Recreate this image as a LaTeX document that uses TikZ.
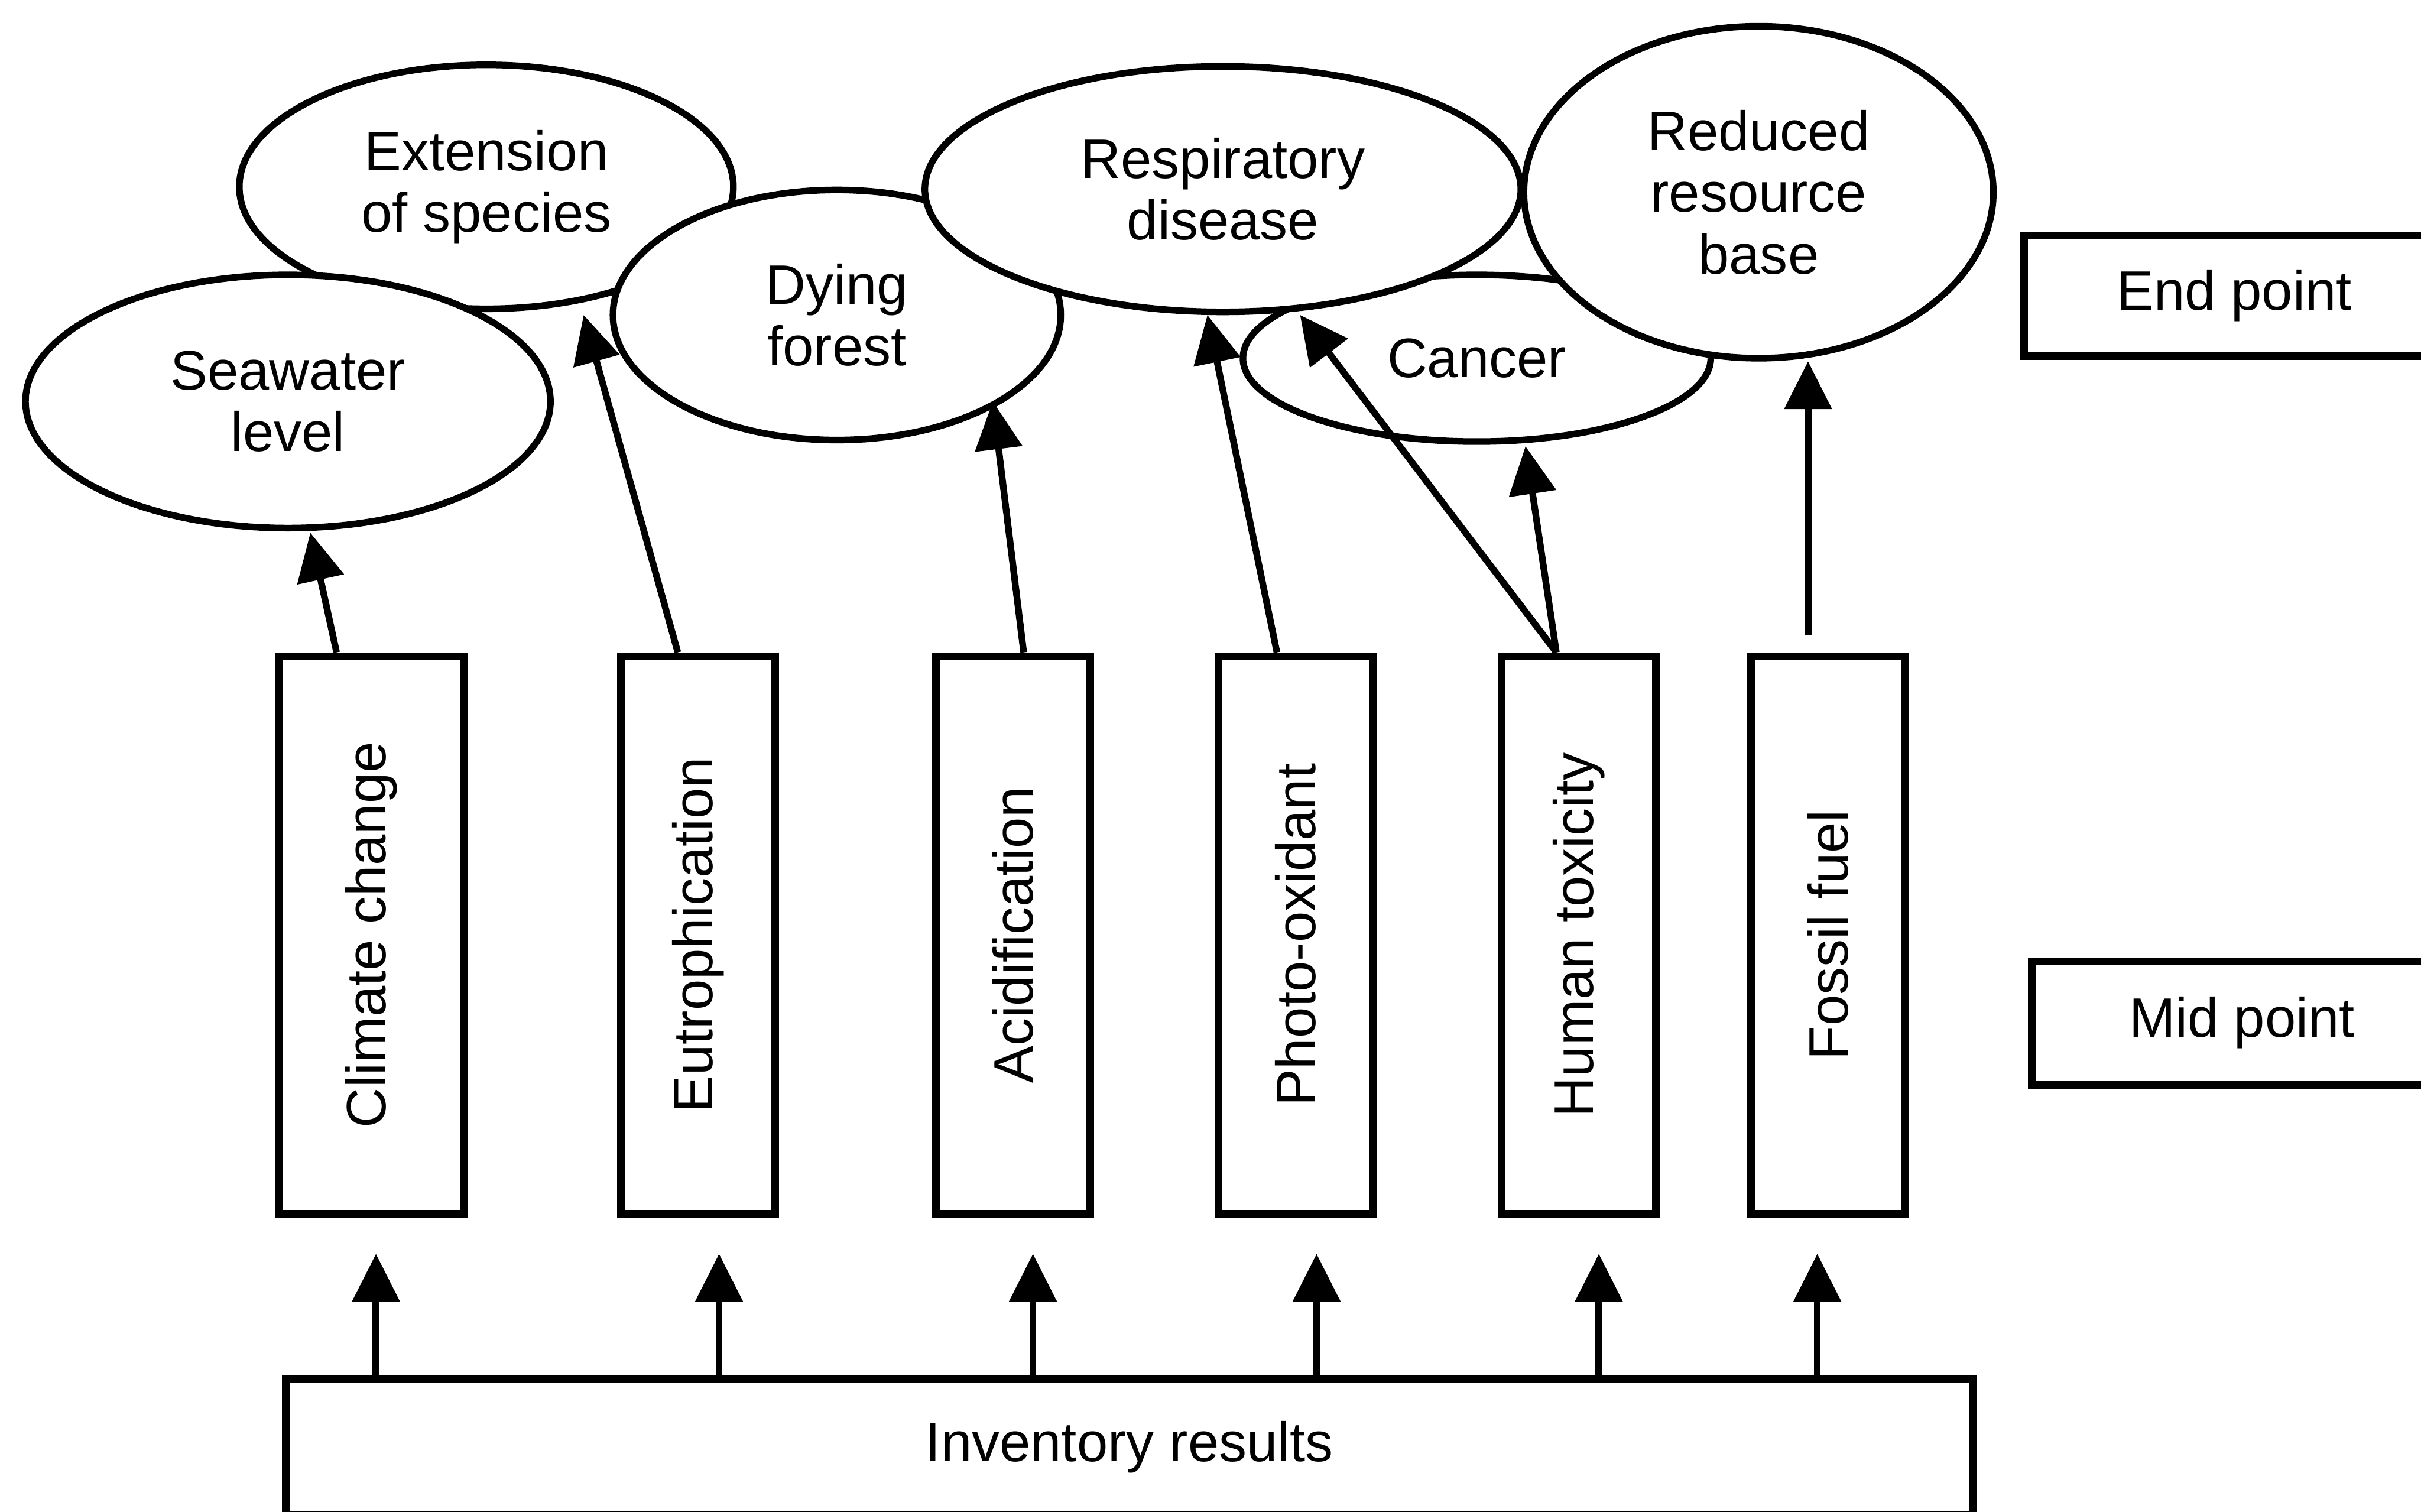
\documentclass[tikz,border=0pt]{standalone}
\usepackage{fontspec}
\usepackage{graphicx}
\setmainfont{Liberation Sans}
\usetikzlibrary{shapes.geometric,arrows.meta}
\begin{document}
\begin{tikzpicture}[x=1pt,y=-1pt,
  lbl/.style={font=\fontsize{36}{40}\selectfont, align=center, inner sep=0pt},
  bubble/.style={lbl, ellipse, draw, line width=4.3pt, fill=white},
  bar/.style={lbl, rectangle, draw, line width=5pt, fill=white, minimum height=361pt},
  tag/.style={lbl, rectangle, draw, line width=5pt, fill=white},
  arr/.style={line width=4.3pt, -{Triangle[length=31pt,width=30pt]}}]
\useasboundingbox (0,0) rectangle (1568,979);
\clip (0,0) rectangle (1568,979);

% end-point effects (drawn back to front)
\node[bubble, minimum width=320pt, minimum height=158pt] (ext) at (315,121) {Extension\\of species};
\node[bubble, minimum width=340pt, minimum height=164pt] (sea) at (186.5,260) {Seawater\\level};
\node[bubble, minimum width=290pt, minimum height=162pt] (dy)  at (542,204) {Dying\\forest};
\node[bubble, minimum width=303pt, minimum height=108pt] (ca)  at (956.5,232) {Cancer};
\node[bubble, minimum width=386pt, minimum height=159pt] (re)  at (792,122.5) {Respiratory\\disease};
\node[bubble, minimum width=304pt, minimum height=215pt] (rr)  at (1139,124.5) {Reduced\\resource\\base};

% mid-point categories
\node[bar, minimum width=120pt] (cc) at (240.5,605.5) {\rotatebox{90}{Climate change}};
\node[bar, minimum width=100pt] (eu) at (452,605.5)   {\rotatebox{90}{Eutrophication}};
\node[bar, minimum width=100pt] (ac) at (656,605.5)   {\rotatebox{90}{Acidification}};
\node[bar, minimum width=100pt] (po) at (839,605.5)   {\rotatebox{90}{Photo-oxidant}};
\node[bar, minimum width=100pt] (ht) at (1022.5,605.5){\rotatebox{90}{Human toxicity}};
\node[bar, minimum width=100pt] (ff) at (1184,605.5)  {\rotatebox{90}{Fossil fuel}};

% level tags and inventory
\node[tag, minimum width=272pt, minimum height=78pt] (endp) at (1447,191.5) {End point};
\node[tag, minimum width=272pt, minimum height=80pt] (midp) at (1452,662.5) {Mid point};
\node[tag, minimum width=1093pt, minimum height=88pt] (inv) at (731.5,937) {Inventory results};

% arrow tips at the effects
\coordinate (tsea) at (201,345);
\coordinate (text) at (378,204);
\coordinate (tdy)  at (643,260);
\coordinate (tre1) at (782,204);
\coordinate (tre2) at (842,204);
\coordinate (tca)  at (988,289);
\coordinate (trr)  at (1171,234);

\draw[arr] ([xshift=-22.5pt]cc.north) -- (tsea);
\draw[arr] ([xshift=-13pt]eu.north) -- (text);
\draw[arr] ([xshift=7pt]ac.north) -- (tdy);
\draw[arr] ([xshift=-12pt]po.north) -- (tre1);
\draw[arr] ([xshift=-14.5pt]ht.north) -- (tre2);
\draw[arr] ([xshift=-14.5pt]ht.north) -- (tca);
\draw[arr] ([xshift=-13pt,yshift=11pt]ff.north) -- (trr);

% arrows from the inventory
\coordinate (b1) at (243.5,812);
\coordinate (b2) at (465.7,812);
\coordinate (b3) at (669,812);
\coordinate (b4) at (852.7,812);
\coordinate (b5) at (1035.5,812);
\coordinate (b6) at (1177,812);
\foreach \t in {b1,b2,b3,b4,b5,b6}
  \draw[arr] (inv.north -| \t) -- (\t);
\end{tikzpicture}
\end{document}
